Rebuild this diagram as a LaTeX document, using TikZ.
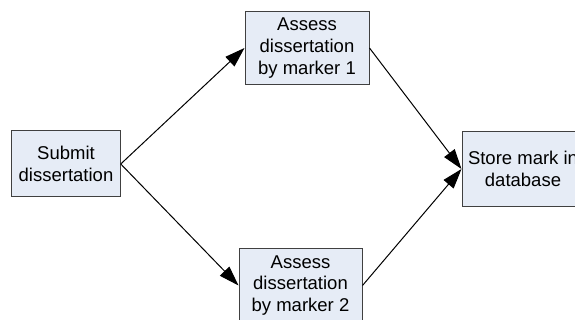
\documentclass[tikz,border=0pt]{standalone}
\usepackage{fontspec}
\setmainfont{Liberation Sans}
\usetikzlibrary{arrows.meta}
\definecolor{boxfill}{RGB}{230,236,246}
\definecolor{boxline}{RGB}{64,64,64}
\begin{document}
\begin{tikzpicture}[x=1pt,y=1pt,
  box/.style={draw=boxline, fill=boxfill, line width=1pt, align=center, inner sep=0pt,
    font=\fontsize{18.5}{21.7}\selectfont},
  arr/.style={line width=1pt, -{Triangle[length=20pt,width=13pt]}}]
\useasboundingbox (0,0) rectangle (575,320);
\node[box, minimum width=108.5, minimum height=66] (sub) at (66,156) {Submit\\dissertation};
\node[box, minimum width=124, minimum height=73.5] (ass1) at (307,272) {Assess\\dissertation\\by marker 1};
\node[box, minimum width=123, minimum height=73] (ass2) at (300.5,34.5) {Assess\\dissertation\\by marker 2};
\node[box, minimum width=122, minimum height=75] (store) at (523,151) {Store mark in\\database};
\draw[arr](sub.east) -- (ass1.west);
\draw[arr](sub.east) -- (ass2.west);
\draw[arr](ass1.east) -- (store.west);
\draw[arr](ass2.east) -- (store.west);

\end{tikzpicture}
\end{document}
